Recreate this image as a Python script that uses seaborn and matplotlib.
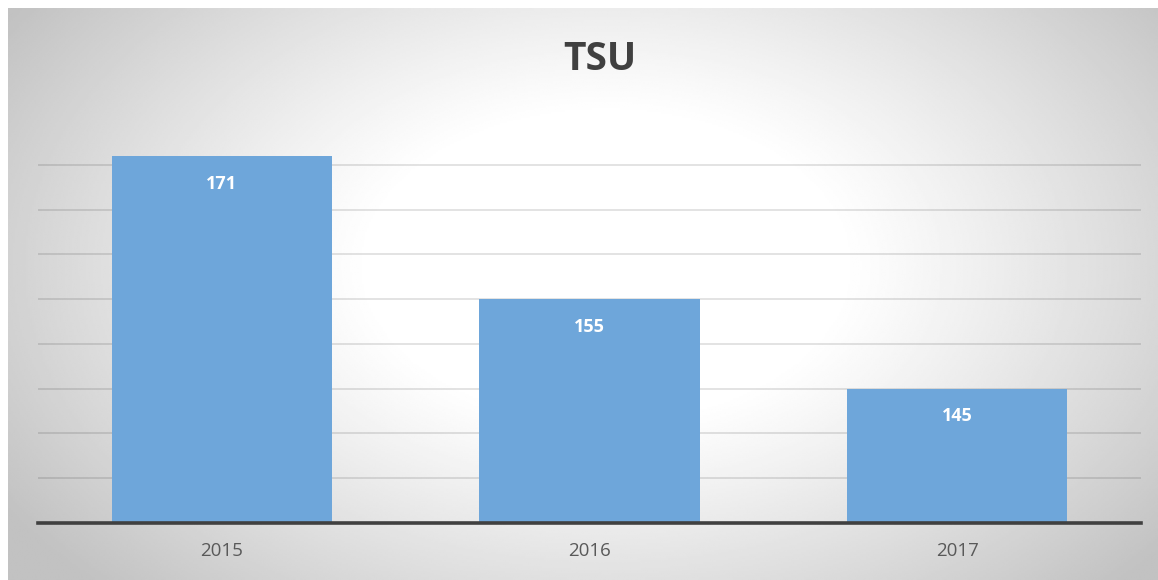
import matplotlib

matplotlib.use("Agg")

import matplotlib.pyplot as plt
import numpy as np
import pandas as pd
import seaborn as sns

years = ["2015", "2016", "2017"]
counts = [171, 155, 145]
grid_values = [135, 140, 145, 150, 155, 160, 165, 170]

bar_color = "#6EA6DA"
text_color = "#404040"

sns.set_style("white")
plt.rcParams["font.family"] = ["Open Sans", "DejaVu Sans"]

W, H = 1158, 580
fig = plt.figure(figsize=(W / 100, H / 100), dpi=100, facecolor="white")

# radial grey-to-white background, like the office chart style
bg = fig.add_axes([8 / W, 0, (W - 8) / W, (H - 8) / H], zorder=0)
yy, xx = np.mgrid[0:1:300j, 0:1:600j]
r = np.sqrt(((xx - 0.52) / 0.62) ** 2 + ((yy - 0.45) / 0.8) ** 2)
shade = np.clip(1.0 - 0.24 * np.clip((r - 0.33) / 0.67, 0, 1) ** 1.1, 0.75, 1.0)
bg.imshow(shade, cmap="gray", vmin=0, vmax=1, aspect="auto", interpolation="bilinear")
bg.axis("off")

ax = fig.add_axes([38 / W, 57 / H, (1141 - 38) / W, (523 - 120) / H], zorder=1)
ax.patch.set_alpha(0)

df = pd.DataFrame({"year": years, "count": counts})
sns.barplot(data=df, x="year", y="count", color=bar_color, saturation=1,
            width=0.6, linewidth=0, ax=ax, zorder=3)

ax.set_xlim(-0.5, 2.5)
ax.set_ylim(130, 175)
for v in grid_values:
    ax.axhline(v, color="black", alpha=0.14, linewidth=1.1, zorder=1)

for i, v in enumerate(counts):
    ax.annotate(str(v), xy=(i, v), xytext=(0, -20), textcoords="offset points",
                ha="center", va="center", color="white", fontsize=13,
                fontweight="bold", zorder=5, annotation_clip=False)

for side in ["top", "right", "left"]:
    ax.spines[side].set_visible(False)
ax.spines["bottom"].set_color(text_color)
ax.spines["bottom"].set_linewidth(2.6)
ax.spines["bottom"].set_zorder(6)

ax.set_yticks([])
ax.set_xlabel("")
ax.set_ylabel("")
ax.tick_params(axis="x", length=0, pad=14, labelsize=13.5, labelcolor="#595959")

fig.text(600 / W, 1 - 59 / H, "TSU", ha="center", va="center", fontsize=28,
         fontweight="bold", color=text_color)

fig.savefig("out.png", dpi=100)
